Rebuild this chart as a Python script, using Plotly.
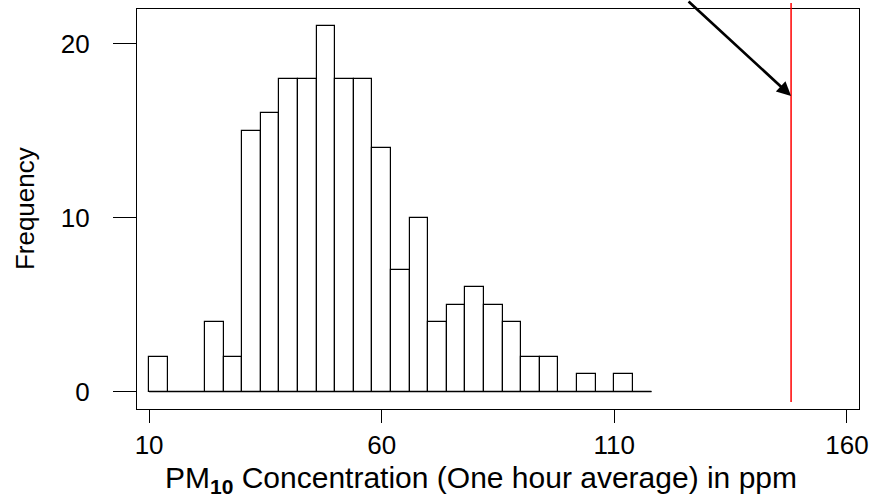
import plotly.graph_objects as go

# ---- data ----
bin_start = 10
bin_width = 4
counts = [2, 0, 0, 4, 2, 15, 16, 18, 18, 21, 18, 18, 14, 7, 10, 4, 5, 6, 5, 4, 2, 2, 0, 1, 0, 1, 0]
x_ticks = [10, 60, 110, 160]
y_ticks = [0, 10, 20]
threshold = 148          # red vertical reference line
arrow_y = 17             # where the arrow touches the red line
red_y_extent = [-0.6, 22.35]

x_range = [7.4, 162.6]
y_range = [-1.0, 22.0]

edges = [bin_start + i * bin_width for i in range(len(counts) + 1)]
centers = [bin_start + (i + 0.5) * bin_width for i in range(len(counts))]

FONT = "Liberation Sans, Arial, sans-serif"

fig = go.Figure()
fig.add_trace(go.Bar(
    x=centers, y=counts, width=bin_width,
    marker=dict(color="white", line=dict(color="black", width=1.2)),
    showlegend=False, hoverinfo="x+y",
))
# baseline of the histogram (also shows empty bins)
fig.add_trace(go.Scatter(
    x=[edges[0], edges[-1]], y=[0, 0], mode="lines",
    line=dict(color="black", width=1.3), showlegend=False, hoverinfo="skip",
))

def to_paper(v):
    return (v - y_range[0]) / (y_range[1] - y_range[0])

fig.add_shape(type="line", xref="x", yref="paper",
              x0=threshold, x1=threshold,
              y0=to_paper(red_y_extent[0]), y1=to_paper(red_y_extent[1]),
              line=dict(color="#ff0000", width=1.5))

fig.add_annotation(x=threshold, y=arrow_y, xref="x", yref="y",
                   ax=-104, ay=-104, axref="pixel", ayref="pixel",
                   text="", showarrow=True, arrowhead=2, arrowsize=1.05,
                   arrowwidth=2.7, arrowcolor="black", standoff=0)

# axis titles
fig.add_annotation(xref="paper", yref="paper", x=0.4765, y=-0.125,
                   xanchor="center", yanchor="top", showarrow=False,
                   text="PM<sub><b>10</b></sub> Concentration (One hour average) in ppm",
                   font=dict(family=FONT, size=30, color="black"))
fig.add_annotation(xref="paper", yref="paper", x=-0.155, y=0.5,
                   xanchor="center", yanchor="middle", showarrow=False,
                   textangle=-90, text="Frequency",
                   font=dict(family=FONT, size=26, color="black"))

fig.update_layout(
    width=880, height=499,
    margin=dict(l=137, r=21, t=9, b=90),
    paper_bgcolor="white", plot_bgcolor="white",
    font=dict(family=FONT, color="black"),
    bargap=0,
    xaxis=dict(range=x_range, tickvals=x_ticks, ticktext=[str(v) for v in x_ticks],
               ticks="outside", ticklen=13, tickwidth=1, tickcolor="black",
               showline=True, linecolor="black", linewidth=1.2, mirror=True,
               showgrid=False, zeroline=False, tickfont=dict(size=26, family=FONT),
               ticklabelstandoff=0),
    yaxis=dict(range=y_range, tickvals=y_ticks, ticktext=[str(v) for v in y_ticks],
               ticks="outside", ticklen=23, tickwidth=1, tickcolor="black",
               showline=True, linecolor="black", linewidth=1.2, mirror=True,
               showgrid=False, zeroline=False, tickfont=dict(size=26, family=FONT),
               ticklabelstandoff=18),
)

fig.write_html("out.html")
